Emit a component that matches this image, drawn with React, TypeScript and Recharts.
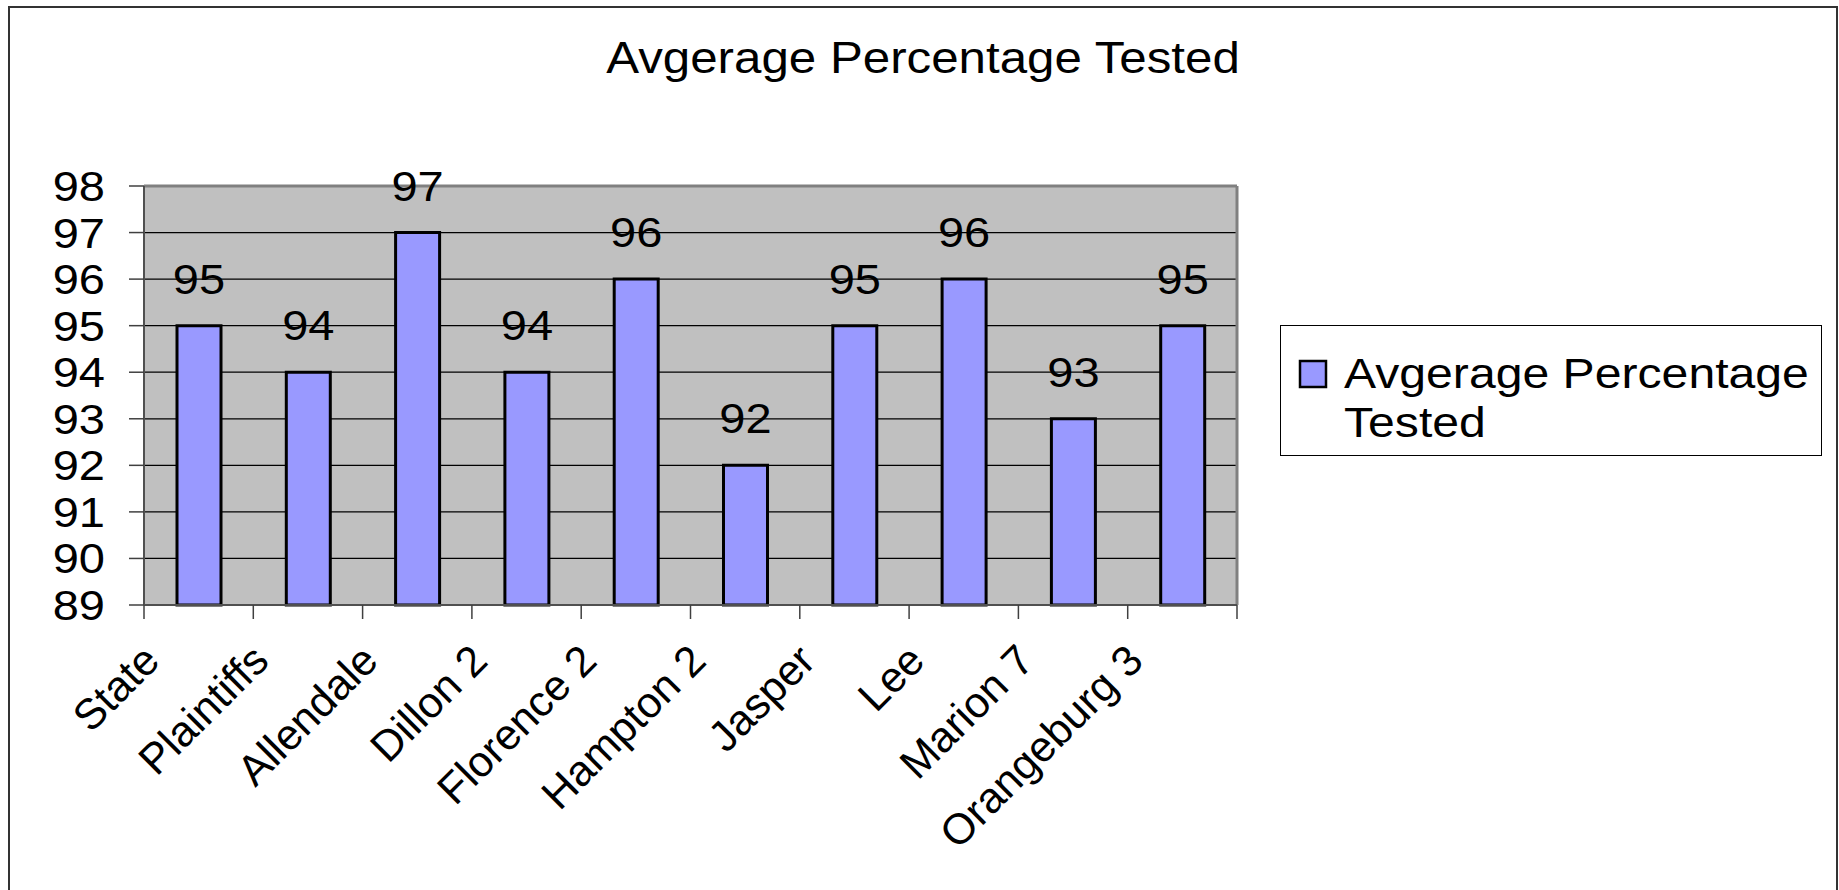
import React from "react";
import { BarChart, Bar, XAxis, YAxis, CartesianGrid, Legend, LabelList } from "recharts";

const categories = ["State", "Plaintiffs", "Allendale", "Dillon 2", "Florence 2", "Hampton 2", "Jasper", "Lee", "Marion 7", "Orangeburg 3"];
const tested = [95, 94, 97, 94, 96, 92, 95, 96, 93, 95];
const yTicks = [89, 90, 91, 92, 93, 94, 95, 96, 97, 98];
const seriesName = "Avgerage Percentage Tested";

const data = categories.map((name, i) => ({ name, value: tested[i] }));

const W = 1839;
const H = 890;
// plot area: x 144..1237, y 186..605 (axes eat 1px / 100px of these margins)
const MARGIN = { top: 185, right: 601, bottom: 284, left: 44 };
const BAND = (1237 - 144) / categories.length;
const FONT = "'Liberation Sans', Arial, sans-serif";
const SX = 1.12; // the source picture is stretched a bit sideways

const YTick = (props: any) => {
    const { x, y, payload } = props;
    return (
        <text transform={`translate(${x},${y + 15}) scale(${SX},1)`} textAnchor="end" fontSize={42} fontFamily={FONT} fill="#000">
            {payload.value}
        </text>
    );
};

const XTick = (props: any) => {
    const { x, y, payload, index } = props;
    const left = x - BAND / 2;
    const right = x + BAND / 2;
    return (
        <g>
            <line x1={left} y1={y} x2={left} y2={y + 14} stroke="#404040" strokeWidth={1.5} />
            {index === categories.length - 1 && <line x1={right} y1={y} x2={right} y2={y + 14} stroke="#404040" strokeWidth={1.5} />}
            <text transform={`translate(${x - 37},${y + 58}) rotate(-45)`} textAnchor="end" fontSize={43} fontFamily={FONT} fill="#000">
                {payload.value}
            </text>
        </g>
    );
};

const BarLabel = (props: any) => {
    const { x, y, width, value } = props;
    return (
        <text transform={`translate(${x + width / 2},${y - 32}) scale(${SX},1)`} textAnchor="middle" fontSize={42} fontFamily={FONT} fill="#000">
            {value}
        </text>
    );
};

const LegendBox = () => (
    <svg width={542} height={131} style={{ display: "block" }}>
        <rect x={19} y={35} width={26} height={26} fill="#9999FF" stroke="#000" strokeWidth={2.5} />
        <text transform={`translate(63,62) scale(${SX},1)`} fontSize={43} fontFamily={FONT} fill="#000">Avgerage Percentage</text>
        <text transform={`translate(63,111) scale(${SX},1)`} fontSize={43} fontFamily={FONT} fill="#000">Tested</text>
    </svg>
);

export default function App() {
    return (
        <div style={{ position: "relative", width: W, height: H, background: "#fff", overflow: "hidden" }}>
            <style>{"body{margin:0;overflow:hidden}"}</style>
            <div style={{ position: "absolute", left: 8, top: 6, width: 1830, height: 920, border: "2px solid #333", boxSizing: "border-box" }} />
            <svg width={W} height={120} style={{ position: "absolute", left: 0, top: 0 }}>
                <text transform="translate(923,73) scale(1.12,1)" textAnchor="middle" fontSize={44} fontFamily={FONT} fill="#000">
                    {seriesName}
                </text>
            </svg>
            <BarChart width={W} height={H} data={data} margin={MARGIN} style={{ position: "absolute", left: 0, top: 0 }}>
                <CartesianGrid vertical={false} stroke="#000" strokeWidth={1.2} fill="#C0C0C0" fillOpacity={1} />
                <XAxis xAxisId="top" orientation="top" dataKey="name" height={1} tick={false} tickLine={false} axisLine={{ stroke: "#808080", strokeWidth: 3 }} />
                <YAxis yAxisId="right" orientation="right" width={1} domain={[89, 98]} ticks={yTicks} tick={false} tickLine={false} axisLine={{ stroke: "#808080", strokeWidth: 3 }} />
                <XAxis dataKey="name" height={1} interval={0} tickSize={0} tickMargin={0} tickLine={false} tick={<XTick />} axisLine={{ stroke: "#505050", strokeWidth: 2 }} />
                <YAxis
                    width={100}
                    domain={[89, 98]}
                    ticks={yTicks}
                    interval={0}
                    tickSize={15}
                    tickMargin={24}
                    tick={<YTick />}
                    tickLine={{ stroke: "#404040", strokeWidth: 1.5 }}
                    axisLine={{ stroke: "#505050", strokeWidth: 2 }}
                />
                <Legend
                    layout="vertical"
                    align="center"
                    verticalAlign="middle"
                    content={<LegendBox />}
                    wrapperStyle={{ position: "absolute", left: 1280, top: 325, width: 542, height: 131, border: "1px solid #000", boxSizing: "border-box", background: "#fff" }}
                />
                <Bar dataKey="value" name={seriesName} fill="#9999FF" stroke="#000" strokeWidth={3} barSize={44} isAnimationActive={false}>
                    <LabelList dataKey="value" content={<BarLabel />} />
                </Bar>
            </BarChart>
        </div>
    );
}
